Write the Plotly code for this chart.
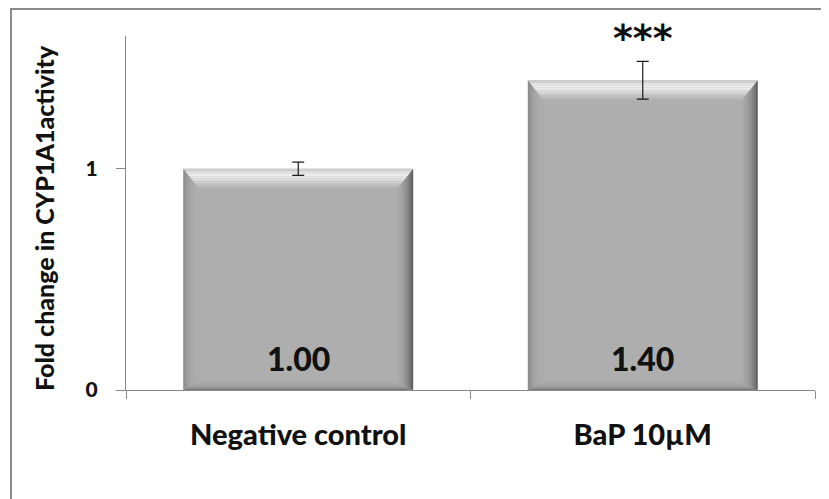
import plotly.graph_objects as go

categories = ["Negative control", "BaP 10µM"]
values = [1.00, 1.40]
errors = [0.03, 0.085]
value_labels = ["1.00", "1.40"]
significance = ["", "***"]
y_ticks = [0, 1]
y_max = 1.6

positions = list(range(len(categories)))
FONT = "Lato"

fig = go.Figure()

# main bars
fig.add_trace(go.Bar(
    x=positions, y=values, width=0.667,
    marker=dict(color="#AEAEAE", line=dict(width=0)),
    hoverinfo="skip", showlegend=False,
))

# bevel effect built from the bar values
h = 0.3335
dx = 0.046
dy = 0.09
dyb = 0.04


def poly(xs, ys, color):
    fig.add_trace(go.Scatter(
        x=xs + [xs[0]], y=ys + [ys[0]], mode="lines", fill="toself",
        fillcolor=color, line=dict(width=0, color=color),
        hoverinfo="skip", showlegend=False,
    ))


def band(i, v, f0, f1, side, color):
    """bevel band between fractions f0..f1 of the bevel depth"""
    x0, x1 = i - h, i + h
    if side == "top":
        poly([x0 + dx * f0, x1 - dx * f0, x1 - dx * f1, x0 + dx * f1],
             [v - dy * f0, v - dy * f0, v - dy * f1, v - dy * f1], color)
    elif side == "left":
        poly([x0 + dx * f0, x0 + dx * f1, x0 + dx * f1, x0 + dx * f0],
             [v - dy * f0, v - dy * f1, dyb * f1, dyb * f0], color)
    elif side == "right":
        poly([x1 - dx * f0, x1 - dx * f1, x1 - dx * f1, x1 - dx * f0],
             [v - dy * f0, v - dy * f1, dyb * f1, dyb * f0], color)
    else:
        poly([x0 + dx * f0, x1 - dx * f0, x1 - dx * f1, x0 + dx * f1],
             [dyb * f0, dyb * f0, dyb * f1, dyb * f1], color)


top_cols = ["#CFCFCF", "#E4E4E4", "#EDEDED", "#E8E8E8", "#DCDCDC", "#CECECE", "#C0C0C0", "#B5B5B5"]
left_cols = ["#8C8C8C", "#959595", "#9D9D9D", "#A4A4A4", "#A8A8A8", "#AAAAAA", "#ACACAC", "#ADADAD"]
right_cols = ["#5E5E5E", "#707070", "#808080", "#8C8C8C", "#969696", "#9E9E9E", "#A5A5A5", "#AAAAAA"]
bot_cols = ["#7E7E7E", "#888888", "#929292", "#9A9A9A", "#A0A0A0", "#A5A5A5", "#A9A9A9", "#ACACAC"]
n = len(top_cols)

for i, v in zip(positions, values):
    for k in range(n):
        f0, f1 = k / n, (k + 1) / n
        band(i, v, f0, f1, "bottom", bot_cols[k])
        band(i, v, f0, f1, "left", left_cols[k])
        band(i, v, f0, f1, "right", right_cols[k])
        band(i, v, f0, f1, "top", top_cols[k])

# error bars
fig.add_trace(go.Scatter(
    x=positions, y=values, mode="markers",
    marker=dict(size=0.1, color="rgba(0,0,0,0)"),
    error_y=dict(type="data", array=errors, visible=True,
                 color="#1A1A1A", thickness=1.2, width=6),
    hoverinfo="skip", showlegend=False,
))

annotations = []
for i, v, e, lab, sig in zip(positions, values, errors, value_labels, significance):
    annotations.append(dict(
        x=i, y=0, xref="x", yref="y", text=lab, showarrow=False,
        yanchor="middle", yshift=32,
        font=dict(family=FONT, size=32, color="#111111", weight=900),
    ))
    if sig:
        annotations.append(dict(
            x=i, y=v + e, xref="x", yref="y", text=sig, showarrow=False,
            yanchor="middle", yshift=23,
            font=dict(family="DejaVu Sans", size=38, color="#111111", weight="bold"),
        ))

annotations.append(dict(
    x=-0.119, y=0.486, xref="paper", yref="paper", textangle=-90,
    text="Fold change in CYP1A1activity", showarrow=False,
    xanchor="center", yanchor="middle",
    font=dict(family=FONT, size=25, color="#111111", weight=900),
))

# the page body adds an 8px offset; margins compensate so the plot area lands in place
fig.update_layout(
    width=829, height=499,
    margin=dict(l=118, r=22, t=28, b=117, autoexpand=False),
    paper_bgcolor="white", plot_bgcolor="white",
    annotations=annotations,
    shapes=[dict(type="rect", xref="paper", yref="paper",
                 x0=-0.1669, x1=1.3, y0=-0.6, y1=1.0763,
                 line=dict(color="#8A8A8A", width=2), fillcolor="rgba(0,0,0,0)",
                 layer="below")],
)

fig.update_xaxes(
    range=[-0.5, len(categories) - 0.5], automargin=False,
    tickvals=positions, ticktext=categories,
    ticks="", showgrid=False, zeroline=False,
    showline=True, linecolor="#888888", linewidth=1,
    tickfont=dict(family=FONT, size=29, color="#111111", weight=900),
    ticklabelstandoff=19,
    minor=dict(tickvals=[p - 0.5 for p in positions] + [len(categories) - 0.5],
               ticks="outside", ticklen=8, tickcolor="#888888", tickwidth=1),
)

fig.update_yaxes(
    range=[0, y_max], tickvals=y_ticks, ticktext=[str(t) for t in y_ticks],
    automargin=False,
    ticks="outside", ticklen=9, tickcolor="#888888", tickwidth=1,
    showgrid=False, zeroline=False,
    showline=True, linecolor="#888888", linewidth=1,
    tickfont=dict(family=FONT, size=21, color="#111111", weight=900),
    ticklabelstandoff=14,
)

fig.write_html("out.html")
